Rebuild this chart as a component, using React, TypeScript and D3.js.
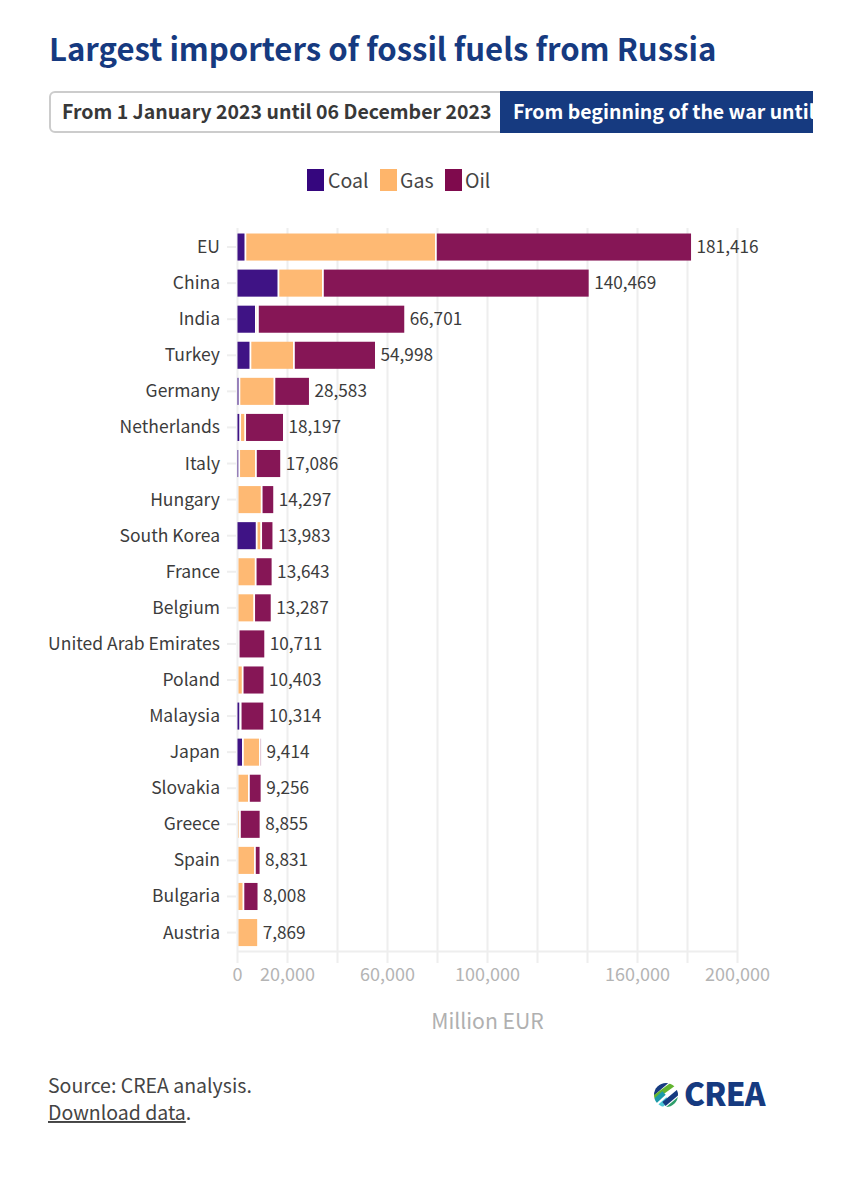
import React from "react";
import * as d3 from "d3";

const countries = ["EU","China","India","Turkey","Germany","Netherlands","Italy","Hungary","South Korea","France","Belgium","United Arab Emirates","Poland","Malaysia","Japan","Slovakia","Greece","Spain","Bulgaria","Austria"];
const coal = [2800,16000,7000,4800,400,700,300,0,7300,0,0,0,0,700,1800,0,0,0,0,0];
const gas = [76200,17800,800,17400,14000,2000,6700,9300,1800,6900,6300,100,1700,200,6800,4200,600,6600,2000,7869];
const oil = [102416,106669,58901,32798,14183,15497,10086,4997,4883,6743,6987,10611,8703,9414,814,5056,8255,2231,6008,0];
const totals = [181416,140469,66701,54998,28583,18197,17086,14297,13983,13643,13287,10711,10403,10314,9414,9256,8855,8831,8008,7869];
const fuels = ["Coal","Gas","Oil"];
const fuelColors = ["#35067e","#feb56b","#7f0a4d"];
const gridTicks = [0,20000,40000,60000,80000,100000,120000,140000,160000,180000,200000];
const labelledTicks = [0,20000,60000,100000,160000,200000];

const FONT = "'Noto Sans CJK SC','Noto Sans',sans-serif";
const NAVY = "#163a80";
const GAP = 1.8;

export default function App() {
  const x = d3.scaleLinear().domain([0,200000]).range([237.5,737.5]);
  const y = d3.scaleBand().domain(countries).range([229,950.6]).paddingInner(0.25).paddingOuter(0.125);
  const rows = countries.map((c,i)=>({country:c,Coal:coal[i],Gas:gas[i],Oil:oil[i]}));
  const stacked = d3.stack<any>().keys(fuels)(rows);
  const color = d3.scaleOrdinal<string,string>().domain(fuels).range(fuelColors);
  const fmt = d3.format(",");
  const legendX = [307,380,445];
  const legendTextX = [328,400,465];
  return (
    <svg width={846} height={1200} style={{position:"absolute",left:0,top:0,background:"#fff"}} fontFamily={FONT}>
      <defs>
        <clipPath id="tabclip"><rect x={500} y={90} width={313} height={44}/></clipPath>
        <clipPath id="logoclip"><circle cx={666} cy={1095} r={12}/></clipPath>
      </defs>
      <text x={49} y={61} fontSize={31.1} fontWeight={700} fill={NAVY}>Largest importers of fossil fuels from Russia</text>

      <path d="M500 92 H55 a5 5 0 0 0 -5 5 V127 a5 5 0 0 0 5 5 H500" fill="#fff" stroke="#cccccc" strokeWidth={2}/>
      <text x={62} y={119} fontSize={19.5} fontWeight={700} fill="#383838">From 1 January 2023 until 06 December 2023</text>
      <rect x={500} y={91} width={313} height={42} fill={NAVY}/>
      <text x={513} y={119} fontSize={19.5} fontWeight={700} fill="#fff" clipPath="url(#tabclip)">From beginning of the war until</text>

      {fuels.map((f,i)=>(
        <g key={f}>
          <rect x={legendX[i]} y={169} width={17} height={22} fill={color(f)}/>
          <text x={legendTextX[i]} y={188} fontSize={19.5} fill="#444">{f}</text>
        </g>
      ))}

      {gridTicks.map(t=>(
        <line key={t} x1={x(t)} x2={x(t)} y1={228} y2={963} stroke="#eeeeee" strokeWidth={2}/>
      ))}
      <line x1={x(0)} x2={x(200000)} y1={951.5} y2={951.5} stroke="#eeeeee" strokeWidth={2}/>
      {countries.map(c=>{
        const cy = y(c)!+y.bandwidth()/2;
        return (
          <g key={c}>
            <line x1={227} x2={236} y1={cy} y2={cy} stroke="#eeeeee" strokeWidth={2}/>
            <text x={220} y={cy+6} textAnchor="end" fontSize={17.5} fill="#3c3c3c">{c}</text>
          </g>
        );
      })}

      {stacked.map((s,si)=>(
        <g key={s.key} fill={color(s.key)} fillOpacity={0.95}>
          {s.map((d,i)=>{
            const start = si===0 ? x(d[0]) : d[0]===0 ? x(0)+1 : x(d[0])+GAP;
            const w = x(d[1])-start;
            return d[1]>d[0] && w>0 ? (
              <rect key={i} x={start} y={y(countries[i])!} width={w} height={y.bandwidth()}/>
            ) : null;
          })}
        </g>
      ))}

      {countries.map((c,i)=>(
        <text key={c} x={x(totals[i])+5.5} y={y(c)!+y.bandwidth()/2+6} fontSize={17.2} fill="#3c3c3c">{fmt(totals[i])}</text>
      ))}

      {labelledTicks.map(t=>(
        <text key={t} x={x(t)} y={981} textAnchor="middle" fontSize={18} fill="#b4b4b4">{fmt(t)}</text>
      ))}
      <text x={487.5} y={1029} textAnchor="middle" fontSize={21.2} fill="#b0b0b0">Million EUR</text>

      <text x={48} y={1093} fontSize={19.5} fill="#444">Source: CREA analysis.</text>
      <text x={48} y={1120} fontSize={19.5} fill="#444"><tspan textDecoration="underline">Download data</tspan>.</text>

      <g>
        <g clipPath="url(#logoclip)" strokeWidth={5}>
          <line x1={652} y1={1094} x2={668} y2={1080} stroke={NAVY}/>
          <line x1={654} y1={1098} x2={676} y2={1082} stroke="#62b42f"/>
          <line x1={652} y1={1104} x2={664} y2={1093} stroke="#1c9aa8"/>
          <line x1={658} y1={1108} x2={668} y2={1099} stroke="#4cc7d6"/>
          <line x1={664} y1={1104} x2={682} y2={1089} stroke={NAVY}/>
          <line x1={664} y1={1112} x2={682} y2={1097} stroke="#2e9e6a"/>
        </g>
        <text x={684} y={1106} fontSize={31.5} fontWeight={900} fill={NAVY} letterSpacing={-0.8}>CREA</text>
      </g>
    </svg>
  );
}
